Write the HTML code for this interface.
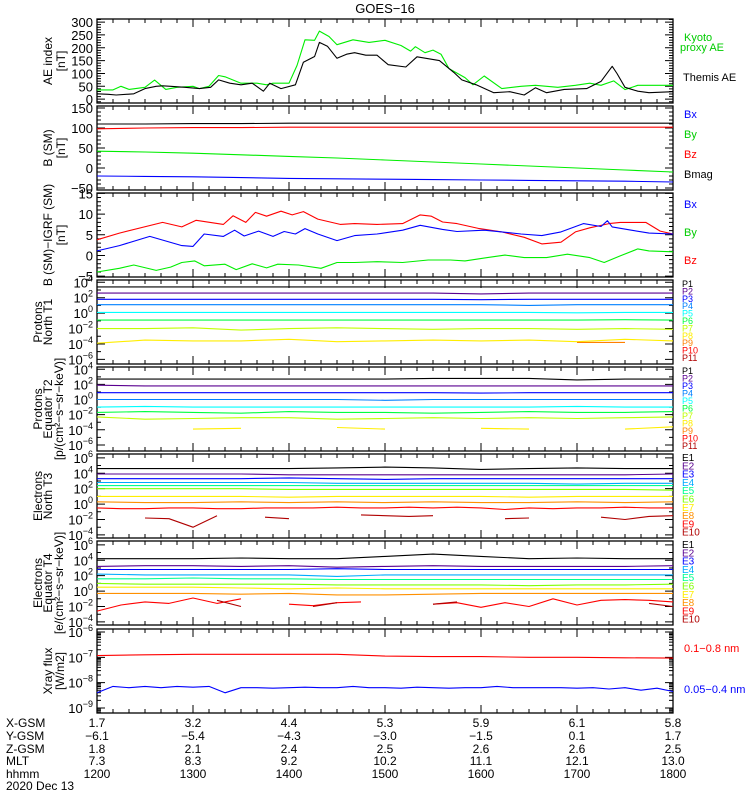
<!DOCTYPE html>
<html><head><meta charset="utf-8"><title>GOES-16</title>
<style>
html,body{margin:0;padding:0;background:#fff;}
svg{display:block;font-family:"Liberation Sans",sans-serif;}
</style></head>
<body>
<svg id="chart" width="750" height="800" viewBox="0 0 750 800" xmlns="http://www.w3.org/2000/svg">
<rect x="0" y="0" width="750" height="800" fill="#fff"/>
<text x="385" y="13" font-size="13" text-anchor="middle">GOES−16</text>
<g id="axes"></g>
<g id="series"></g>
<g id="labels"></g>
</svg>
<script>
// ---------- DATA ----------
const hourLabels = ["1200","1300","1400","1500","1600","1700","1800"];
const xgsm = ["1.7","3.2","4.4","5.3","5.9","6.1","5.8"];
const ygsm = ["−6.1","−5.4","−4.3","−3.0","−1.5","0.1","1.7"];
const zgsm = ["1.8","2.1","2.4","2.5","2.6","2.6","2.5"];
const mlt = ["7.3","8.3","9.2","10.2","11.1","12.1","13.0"];

const t13 = [0,30,60,90,120,150,180,210,240,270,300,330,360];
const t25 = [0,15,30,45,60,75,90,105,120,135,150,165,180,195,210,225,240,255,270,285,300,315,330,345,360];
const t37 = [0,10,20,30,40,50,60,70,80,90,100,110,120,130,140,150,160,170,180,190,200,210,220,230,240,250,260,270,280,290,300,310,320,330,340,350,360];

// Panel 1: AE index
const aeProxyTime = [0,10,15,20,30,36,43,50,60,64,70,76,80,90,100,106,110,120,125,130,136,139,145,150,160,170,180,190,196,199,205,210,215,220,230,235,242,253,265,274,288,299,308,315,323,330,338,345,360];
const aeProxy = [36,36,50,38,46,74,38,46,50,41,50,92,87,62,62,56,62,62,131,231,229,265,244,212,231,221,229,209,187,204,181,191,175,119,84,56,90,41,50,54,46,54,62,54,71,37,54,54,54];
const aeThemisTime = [0,7,12,23,30,37,41,46,55,64,71,76,83,90,97,104,108,115,124,129,136,139,144,150,156,161,168,175,182,193,200,214,223,228,237,248,258,267,274,281,292,306,315,322,325,330,338,345,360];
const aeThemis = [21,19,16,21,41,50,52,50,46,41,46,75,62,56,62,31,62,41,56,144,166,221,206,159,175,181,171,171,134,125,165,150,104,75,56,25,29,16,44,25,38,41,69,128,100,46,31,25,29];

// Panel 2: B (SM)
const bBmag = [110,110,111,111,112,112,112,112,112,112,112,112,112];
const bBz = [98,100,101,101,102,102,102,102,102,102,102,102,102];
const bBy = [42,40,37,33,29,25,20,15,10,5,0,-5,-10];
const bBx = [-20,-21,-22,-24,-26,-27,-28,-29,-30,-31,-32,-33,-35];

// Panel 3: B(SM) - IGRF
const dBzTime = [0,14,41,53,62,79,85,93,99,106,115,122,129,138,152,161,175,191,202,209,216,225,239,253,267,278,290,299,308,320,327,343,352,360];
const dBz = [3.8,5.4,8.0,6.9,8.5,7.5,9.6,8.0,10.4,9.5,10.7,9.8,10.6,8.8,7.5,7.7,7.5,7.7,9.8,9.5,8.1,7.7,6.5,5.7,4.4,2.8,3.2,5.7,6.7,7.7,8.0,8.0,5.9,5.2];
const dBxTime = [0,14,33,53,60,67,79,86,92,101,110,117,124,130,138,150,161,175,191,202,216,225,242,253,265,278,290,304,315,319,322,334,345,360];
const dBx = [1.1,2.4,4.6,2.4,2.2,5.2,4.6,6.1,4.7,5.9,4.6,5.8,5.2,6.5,5.2,3.6,4.8,5.2,6.1,7.3,6.3,5.8,6.1,5.7,5.2,4.8,5.7,7.7,7.0,8.4,6.9,6.1,5.4,5.2];
const dByTime = [0,14,23,37,46,53,61,67,80,87,97,106,113,126,140,150,161,175,191,207,221,230,244,255,267,281,294,308,317,327,338,345,360];
const dBy = [-4.0,-3.1,-2.3,-3.6,-2.8,-1.7,-1.3,-2.5,-2.1,-3.4,-2.0,-3.0,-2.1,-2.3,-3.1,-1.7,-1.7,-1.5,-1.7,-1.1,-1.1,-1.3,-0.5,0.1,-0.5,-0.5,0.3,-0.5,-1.7,-0.1,1.6,1.1,0.9];

// Panel 4: Protons North T1 (log10 flux)
const pnP1 = [3.4,3.4,3.4,3.4,3.4,3.4,3.4,3.4,3.4,3.4,3.4,3.4,3.4];
const pnP2 = [2.6,2.6,2.6,2.6,2.6,2.6,2.6,2.6,2.5,2.6,2.6,2.6,2.6];
const pnP3 = [1.8,1.8,1.8,1.8,1.8,1.8,1.8,1.8,1.75,1.8,1.8,1.8,1.8];
const pnP4 = [1.1,1.1,1.1,1.1,1.1,1.1,1.1,1.1,1.1,1.0,1.1,1.1,1.1];
const pnP5 = [0.1,0.1,0.1,0.1,0.1,0.1,0.1,0.1,0.1,0.1,0.05,0.1,0.1];
const pnP6 = [-0.9,-0.9,-0.9,-0.9,-0.9,-0.9,-0.9,-0.9,-0.9,-0.9,-0.9,-0.85,-0.9];
const pnP7 = [-2.0,-2.0,-1.9,-2.2,-2.0,-1.9,-2.0,-2.1,-2.0,-2.0,-2.1,-2.0,-2.1];
const pnP8 = [-3.9,-3.5,-3.6,-3.6,-3.4,-3.7,-3.6,-3.5,-3.6,-3.5,-3.7,-3.4,-3.6];
const pnP9 = [null,null,null,null,null,null,null,null,null,null,-3.8,-3.8,null];

// Panel 5: Protons Equator T2
const peP1 = [2.7,2.7,2.7,2.7,2.7,2.7,2.7,2.8,2.8,2.8,2.6,2.7,2.7];
const peP2 = [1.9,1.8,1.8,1.8,1.8,1.8,1.8,1.8,1.8,1.8,1.8,1.8,1.8];
const peP3 = [0.9,0.9,0.9,0.9,0.9,0.9,0.9,0.9,0.85,0.9,0.9,0.9,0.9];
const peP4 = [0.0,0.0,0.0,0.0,0.0,0.0,-0.1,0.0,0.0,0.0,0.0,0.0,0.0];
const peP5 = [-1.0,-0.9,-1.0,-1.0,-1.0,-1.0,-1.0,-1.0,-1.0,-1.0,-0.9,-1.0,-1.0];
const peP6 = [-1.7,-1.6,-1.7,-1.8,-1.6,-1.7,-1.7,-1.8,-1.7,-1.6,-1.7,-1.7,-1.6];
const peP7 = [-2.3,-2.6,-2.5,-2.4,-2.4,-2.6,-2.5,-2.4,-2.5,-2.4,-2.5,-2.4,-2.3];
const peP8 = [-3.6,null,-3.9,-3.8,null,-3.7,-3.9,null,-3.8,-3.9,null,-3.9,-3.6];

// Panel 6: Electrons North T3
const enE1 = [4.6,4.6,4.6,4.6,4.6,4.7,4.8,4.7,4.5,4.6,4.7,4.6,4.6];
const enE2 = [3.9,3.9,3.9,3.9,3.8,3.8,3.8,3.8,3.8,3.8,3.8,3.8,3.9];
const enE3 = [3.3,3.3,3.3,3.3,3.4,3.3,3.2,3.3,3.3,3.3,3.3,3.3,3.3];
const enE4 = [2.8,2.8,2.8,2.8,2.8,2.7,2.7,2.7,2.7,2.7,2.6,2.7,2.7];
const enE5 = [2.4,2.4,2.4,2.4,2.4,2.4,2.4,2.4,2.4,2.4,2.4,2.4,2.4];
const enE6 = [2.0,2.0,2.0,2.0,1.9,1.9,1.9,1.9,1.9,1.9,1.9,1.9,1.8];
const enE7 = [1.0,1.0,1.0,1.0,0.9,1.0,1.0,1.0,1.0,0.9,1.0,1.0,1.0];
const enE8 = [0.3,0.2,0.2,0.3,0.2,0.3,0.2,0.3,0.2,0.2,0.3,0.2,0.3];
const enE9 = [-0.5,-0.6,-0.6,-0.5,-0.5,-0.6,-0.6,-0.5,-0.5,-0.5,-0.4,-0.5,-0.5,-0.4,-0.5,-0.4,-0.5,-0.7,-0.5,-0.6,-0.5,-0.5,-0.4,-0.5,-0.5];
const enE10 = [null,null,-1.8,-1.9,-3.0,-1.5,null,-1.7,-1.9,null,null,-1.4,-1.5,-1.6,-1.5,null,null,-1.9,-1.8,null,null,-1.7,-2.0,-1.6,-1.5];

// Panel 7: Electrons Equator T4
const eeE1 = [4.2,4.2,4.2,4.3,4.2,4.2,4.5,4.8,4.5,4.2,4.3,4.2,4.2];
const eeE2 = [3.2,3.3,3.3,3.2,3.3,3.1,3.2,3.3,3.2,3.2,3.2,3.2,3.3];
const eeE3 = [2.8,2.8,2.8,2.8,2.8,2.9,2.8,2.8,2.8,2.8,2.8,2.8,2.8];
const eeE4 = [2.2,2.1,2.1,2.1,2.1,1.9,2.1,2.1,2.1,2.1,2.1,2.1,2.1];
const eeE5 = [1.6,1.6,1.7,1.6,1.6,1.5,1.5,1.5,1.5,1.5,1.5,1.5,1.5];
const eeE6 = [1.0,0.9,0.9,0.9,0.9,0.8,0.8,0.8,0.8,0.7,0.8,0.8,0.9];
const eeE7 = [0.5,0.5,0.5,0.4,0.3,0.4,0.3,0.3,0.3,0.3,0.3,0.3,0.3];
const eeE8 = [-0.3,-0.3,-0.3,-0.4,-0.3,-0.5,-0.5,-0.4,-0.3,-0.3,-0.3,-0.3,-0.3];
const eeE9 = [-2.6,-1.8,-1.4,-1.6,-0.9,-1.6,-1.0,null,-1.7,-1.9,-1.5,-1.4,null,null,-1.7,-1.5,-2.1,-1.5,-2.0,-1.0,-1.8,-1.2,-1.1,-1.2,-1.4];
const eeE10 = [null,null,null,null,null,-1.2,-2.0,null,null,-2.0,-1.5,null,null,null,-1.7,-1.4,null,null,null,null,null,null,null,-1.6,-2.0];

// Panel 8: X-ray flux (log10 W/m2)
const xrsLong = [-6.93,-6.9,-6.88,-6.88,-6.88,-6.88,-6.95,-6.97,-6.97,-7.0,-7.0,-7.02,-7.03];
const xrsShort = [-8.4,-8.15,-8.2,-8.15,-8.2,-8.15,-8.18,-8.15,-8.4,-8.2,-8.2,-8.22,-8.2,-8.18,-8.2,-8.2,-8.15,-8.2,-8.2,-8.22,-8.18,-8.2,-8.22,-8.2,-8.2,-8.15,-8.2,-8.2,-8.2,-8.2,-8.22,-8.2,-8.25,-8.2,-8.3,-8.22,-8.35];

// ---------- LAYOUT ----------
const NS = "http://www.w3.org/2000/svg";
const X0 = 97, XW = 576, PH = 84;
const panels = [
  {top:19, min:-15, max:312, kind:"lin", major:50, minor:10, labels:[0,50,100,150,200,250,300]},
  {top:106, min:-55, max:155, kind:"lin", major:50, minor:10, labels:[-50,0,50,100,150]},
  {top:193, min:-5.2, max:15.1, kind:"lin", major:5, minor:1, labels:[-5,0,5,10,15]},
  {top:280, min:-6.6, max:4.3, kind:"log", labels:[4,2,0,-2,-4,-6]},
  {top:367, min:-6.8, max:4.3, kind:"log", labels:[4,2,0,-2,-4,-6]},
  {top:454, min:-4.4, max:6.5, kind:"log", labels:[6,4,2,0,-2,-4]},
  {top:541, min:-4.4, max:6.5, kind:"log", labels:[6,4,2,0,-2,-4]},
  {top:629, min:-9.2, max:-5.88, kind:"log1", labels:[-6,-7,-8,-9]}
];
function xs(m){ return X0 + m*XW/360; }
function ys(p,v){ const P=panels[p]; return P.top + PH*(P.max - v)/(P.max - P.min); }

const axesG = document.getElementById('axes');
const seriesG = document.getElementById('series');
const labelsG = document.getElementById('labels');

function mk(tag, attrs, parent){
  const e = document.createElementNS(NS, tag);
  for (const k in attrs) e.setAttribute(k, attrs[k]);
  parent.appendChild(e);
  return e;
}

// Axes boxes and ticks
panels.forEach((P, i) => {
  const box = mk('rect', {x:X0, y:P.top, width:XW, height:PH, fill:'none', stroke:'#000', 'stroke-width':1.3}, axesG);
  
  
  let d = '';
  for (let m = 0; m <= 360; m += 10) {
    const x = xs(m), len = (m % 60 === 0) ? 8 : 4;
    d += `M${x},${P.top+PH}v${-len}M${x},${P.top}v${len}`;
  }
  const yt = (v, len) => { const y = ys(i, v); d += `M${X0},${y}h${len}M${X0+XW},${y}h${-len}`; };
  if (P.kind === 'lin') {
    for (let v = Math.ceil(P.min/P.minor)*P.minor; v <= P.max; v += P.minor) {
      yt(v, (Math.abs(v % P.major) < 1e-9) ? 8 : 4);
    }
  } else if (P.kind === 'log') {
    for (let v = Math.ceil(P.min); v <= P.max; v++) yt(v, (v % 2 === 0) ? 8 : 4);
  } else {
    for (let e = -10; e <= -6; e++) {
      for (let k = 1; k <= 9; k++) {
        const v = e + Math.log10(k);
        if (v >= P.min && v <= P.max) yt(v, k === 1 ? 8 : 4);
      }
    }
  }
  const tk = mk('path', {d:d, stroke:'#000', 'stroke-width':1, fill:'none'}, axesG);
  
  

  // tick labels
  P.labels.forEach(v => {
    const y = ys(i, v) + 5;
    const t = mk('text', {x:93, y:y, 'font-size':13, 'text-anchor':'end'}, labelsG);
    
    
    if (P.kind === 'lin') {
      t.textContent = (v < 0 ? '−' + Math.abs(v) : String(v));
    } else {
      const base = document.createElementNS(NS, 'tspan');
      base.textContent = '10';
      t.appendChild(base);
      const sup = document.createElementNS(NS, 'tspan');
      sup.setAttribute('font-size', '9');
      sup.setAttribute('dy', '-6');
      sup.textContent = (v < 0 ? '−' + Math.abs(v) : String(v));
      t.appendChild(sup);
    }
  });
});

function series(p, times, vals, color, name){
  let d = '', pen = false;
  for (let k = 0; k < vals.length; k++) {
    const v = vals[k];
    if (v === null || v === undefined) { pen = false; continue; }
    const x = xs(times[k]).toFixed(1), y = ys(p, v).toFixed(1);
    d += (pen ? 'L' : 'M') + x + ',' + y;
    pen = true;
  }
  const el = mk('path', {d:d, stroke:color, 'stroke-width':1.1, fill:'none', 'stroke-linejoin':'round'}, seriesG);
  
  
}

// Panel 1
series(0, aeProxyTime, aeProxy, '#00ee00', 'kyoto-proxy-ae-line');
series(0, aeThemisTime, aeThemis, '#000', 'themis-ae-line');
// Panel 2
series(1, t13, bBmag, '#000', 'bmag-line');
series(1, t13, bBz, '#ff0000', 'bz-line');
series(1, t13, bBy, '#00ee00', 'by-line');
series(1, t13, bBx, '#0000ff', 'bx-line');
// Panel 3
series(2, dBzTime, dBz, '#ff0000', 'delta-bz-line');
series(2, dBxTime, dBx, '#0000ff', 'delta-bx-line');
series(2, dByTime, dBy, '#00ee00', 'delta-by-line');
// Panel 4
const pColors = ['#000','#5a0090','#0000ff','#0080ff','#00ffff','#00ff40','#c0ff00','#ffee00','#ff8000','#ff0000','#b00000'];
[pnP1,pnP2,pnP3,pnP4,pnP5,pnP6,pnP7,pnP8,pnP9].forEach((a,k)=>series(3, t13, a, pColors[k], 'protons-north-p' + (k+1) + '-line'));
// Panel 5
[peP1,peP2,peP3,peP4,peP5,peP6,peP7,peP8].forEach((a,k)=>series(4, t13, a, pColors[k], 'protons-equator-p' + (k+1) + '-line'));
// Panel 6/7
const eColors = ['#000','#5a0090','#0000ff','#00aaff','#00ff90','#80ff00','#ffee00','#ff9000','#ff0000','#b00000'];
[enE1,enE2,enE3,enE4,enE5,enE6,enE7,enE8].forEach((a,k)=>series(5, t13, a, eColors[k], 'electrons-north-e' + (k+1) + '-line'));
series(5, t25, enE9, eColors[8], 'electrons-north-e9-line');
series(5, t25, enE10, eColors[9], 'electrons-north-e10-line');
[eeE1,eeE2,eeE3,eeE4,eeE5,eeE6,eeE7,eeE8].forEach((a,k)=>series(6, t13, a, eColors[k], 'electrons-equator-e' + (k+1) + '-line'));
series(6, t25, eeE9, eColors[8], 'electrons-equator-e9-line');
series(6, t25, eeE10, eColors[9], 'electrons-equator-e10-line');
// Panel 8
series(7, t13, xrsLong, '#ff0000', 'xray-long-line');
series(7, t37, xrsShort, '#0000ff', 'xray-short-line');

// Legends
function txt(x, y, s, color, size, name){
  const t = mk('text', {x:x, y:y, fill:color, 'font-size':size}, labelsG);
  
  
  t.textContent = s;
  return t;
}
txt(684, 41, 'Kyoto', '#00cc00', 11, 'legend-kyoto');
txt(680, 51, 'proxy AE', '#00cc00', 11, 'legend-proxy-ae');
txt(683, 81, 'Themis AE', '#000', 11, 'legend-themis-ae');
txt(684, 118, 'Bx', '#0000ff', 11, 'legend-bx');
txt(684, 138, 'By', '#00cc00', 11, 'legend-by');
txt(684, 158, 'Bz', '#ff0000', 11, 'legend-bz');
txt(684, 178, 'Bmag', '#000', 11, 'legend-bmag');
txt(684, 208, 'Bx', '#0000ff', 11, 'legend-delta-bx');
txt(684, 236, 'By', '#00cc00', 11, 'legend-delta-by');
txt(684, 264, 'Bz', '#ff0000', 11, 'legend-delta-bz');
for (let k = 0; k < 11; k++) {
  txt(682, 287 + k*7.4, 'P' + (k+1), pColors[k], 9, 'legend-north-p' + (k+1));
  txt(682, 374 + k*7.5, 'P' + (k+1), pColors[k], 9, 'legend-equator-p' + (k+1));
}
for (let k = 0; k < 10; k++) {
  txt(682, 461 + k*8.3, 'E' + (k+1), eColors[k], 10, 'legend-north-e' + (k+1));
  txt(682, 548 + k*8.3, 'E' + (k+1), eColors[k], 10, 'legend-equator-e' + (k+1));
}
txt(684, 652, '0.1−0.8 nm', '#ff0000', 11, 'legend-xray-long');
txt(684, 693, '0.05−0.4 nm', '#0000ff', 11, 'legend-xray-short');

// Y axis titles (rotated)
function ytitle(cx, cy, s, name){
  const t = mk('text', {x:0, y:0, 'font-size':12, 'text-anchor':'middle', transform:`translate(${cx},${cy}) rotate(-90)`}, labelsG);
  
  
  t.textContent = s;
}
ytitle(52, 61, 'AE index', 'ae-axis-title');
ytitle(65, 61, '[nT]', 'ae-axis-unit');
ytitle(52, 148, 'B (SM)', 'b-axis-title');
ytitle(65, 148, '[nT]', 'b-axis-unit');
ytitle(52, 235, 'B (SM)−IGRF (SM)', 'db-axis-title');
ytitle(65, 235, '[nT]', 'db-axis-unit');
ytitle(42, 322, 'Protons', 'protons-north-title');
ytitle(52, 322, 'North T1', 'protons-north-subtitle');
ytitle(42, 409, 'Protons', 'protons-equator-title');
ytitle(52, 409, 'Equator T2', 'protons-equator-subtitle');
ytitle(63, 409, '[p/(cm²−s−sr−keV)]', 'protons-unit');
ytitle(42, 496, 'Electrons', 'electrons-north-title');
ytitle(52, 496, 'North T3', 'electrons-north-subtitle');
ytitle(42, 583, 'Electrons', 'electrons-equator-title');
ytitle(52, 583, 'Equator T4', 'electrons-equator-subtitle');
ytitle(63, 583, '[e/(cm²−s−sr−keV)]', 'electrons-unit');
ytitle(52, 671, 'Xray flux', 'xray-axis-title');
ytitle(64, 671, '[W/m2]', 'xray-axis-unit');

// Bottom ephemeris rows
const rows = [['X-GSM', xgsm, 727], ['Y-GSM', ygsm, 740], ['Z-GSM', zgsm, 753], ['MLT', mlt, 765], ['hhmm', hourLabels, 778]];
rows.forEach(r => {
  txt(6, r[2], r[0], '#000', 12, 'row-label-' + r[0].toLowerCase());
  r[1].forEach((s, k) => {
    const t = txt(xs(k*60), r[2], s, '#000', 12, 'row-' + r[0].toLowerCase() + '-value');
    t.setAttribute('text-anchor', 'middle');
  });
});
txt(6, 790, '2020 Dec 13', '#000', 12, 'date-label');
</script>
</body></html>
